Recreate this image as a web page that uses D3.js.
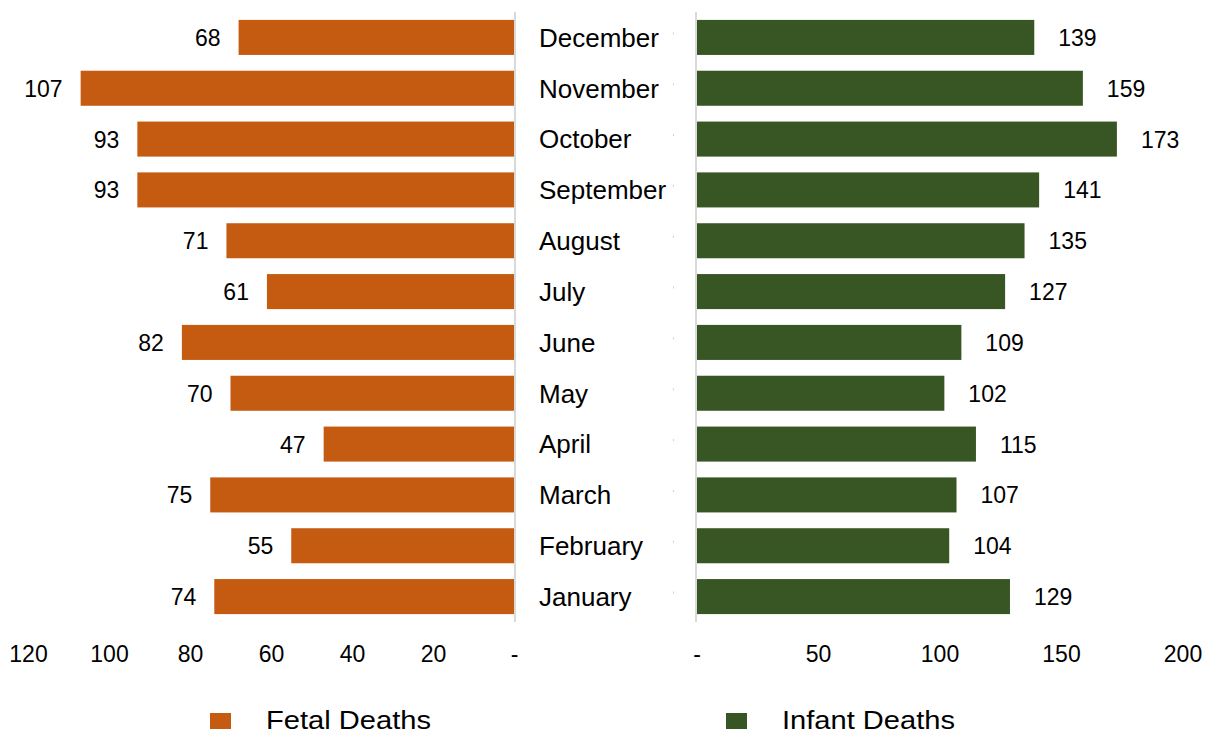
<!DOCTYPE html>
<html>
<head>
<meta charset="utf-8">
<script src="https://cdn.jsdelivr.net/npm/d3@7"></script>
<style>
  body { margin: 0; background: #fff; }
  svg { display: block; }
  text { font-family: "Liberation Sans", Arial, sans-serif; fill: #000; }
</style>
</head>
<body>
<svg id="chart" width="1211" height="734"></svg>
<script>
// ---- data ----
const months = ["December","November","October","September","August","July","June","May","April","March","February","January"];
const fetalDeaths = [68,107,93,93,71,61,82,70,47,75,55,74];
const infantDeaths = [139,159,173,141,135,127,109,102,115,107,104,129];
const leftTicks = [120,100,80,60,40,20,0];
const rightTicks = [0,50,100,150,200];
const seriesNames = ["Fetal Deaths","Infant Deaths"];
const colors = ["#C55A11","#375623"];

const svg = d3.select("#chart");

const y = d3.scaleBand().domain(months).range([12, 622]).paddingInner(0.311).paddingOuter(0.1555);
const xL = d3.scaleLinear().domain([0,120]).range([514, 28]);
const xR = d3.scaleLinear().domain([0,200]).range([696.5, 1182.5]);

const fmt = v => v === 0 ? "-" : String(v);

// vertical axis lines
svg.append("line").attr("x1",515).attr("x2",515).attr("y1",12).attr("y2",622)
  .attr("stroke","#d9d9d9").attr("stroke-width",2);
svg.append("line").attr("x1",696).attr("x2",696).attr("y1",12).attr("y2",622)
  .attr("stroke","#d9d9d9").attr("stroke-width",2);

// left bars
svg.append("g").selectAll("rect").data(months).join("rect")
  .attr("x", (m,i) => xL(fetalDeaths[i]))
  .attr("width", (m,i) => xL(0) - xL(fetalDeaths[i]))
  .attr("y", m => y(m)).attr("height", y.bandwidth())
  .attr("fill", colors[0]);

// right bars
svg.append("g").selectAll("rect").data(months).join("rect")
  .attr("x", xR(0) + 0.5)
  .attr("width", (m,i) => xR(infantDeaths[i]) - xR(0) - 0.5)
  .attr("y", m => y(m)).attr("height", y.bandwidth())
  .attr("fill", colors[1]);

// faint category ticks on right side
svg.append("g").selectAll("rect").data(months).join("rect")
  .attr("x", 673).attr("width", 1)
  .attr("y", m => y(m) + y.bandwidth()/2 - 5).attr("height", 2)
  .attr("fill", "#cfcfcf");

// month labels
svg.append("g").selectAll("text").data(months).join("text")
  .attr("x", 539)
  .attr("y", m => y(m) + y.bandwidth()/2 + 9.3)
  .attr("font-size", 26)
  .text(m => m);

// value labels
svg.append("g").selectAll("text").data(months).join("text")
  .attr("x", (m,i) => xL(fetalDeaths[i]) - 18)
  .attr("y", m => y(m) + y.bandwidth()/2 + 8.5)
  .attr("text-anchor","end").attr("font-size", 23)
  .text((m,i) => fetalDeaths[i]);
svg.append("g").selectAll("text").data(months).join("text")
  .attr("x", (m,i) => xR(infantDeaths[i]) + 24)
  .attr("y", m => y(m) + y.bandwidth()/2 + 8.5)
  .attr("font-size", 23)
  .text((m,i) => infantDeaths[i]);

// axes
const axL = d3.axisBottom(xL).tickValues(leftTicks).tickFormat(fmt).tickSize(0).tickPadding(0);
const axR = d3.axisBottom(xR).tickValues(rightTicks).tickFormat(fmt).tickSize(0).tickPadding(0);
[axL, axR].forEach(ax => {
  const g = svg.append("g").attr("transform","translate(0,645)").call(ax);
  g.select(".domain").remove();
  g.selectAll("text").attr("font-size", 23).attr("fill","#000")
    .attr("font-family", '"Liberation Sans", Arial, sans-serif')
    .attr("dy", null).attr("y", 17);
});

// legend
const legX = [210, 726];
const legTX = [266, 782];
const legW = [165, 173];
seriesNames.forEach((name, i) => {
  svg.append("rect").attr("x", legX[i]).attr("y", 713).attr("width", 21).attr("height", 16).attr("fill", colors[i]);
  svg.append("text").attr("x", legTX[i]).attr("y", 728.5).attr("font-size", 25)
    .attr("textLength", legW[i]).attr("lengthAdjust", "spacingAndGlyphs").text(name);
});
</script>
</body>
</html>
